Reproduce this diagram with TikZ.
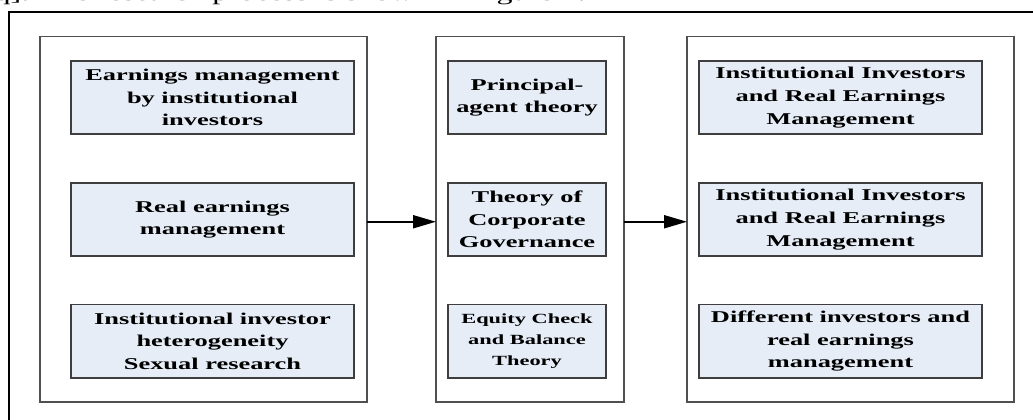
\documentclass[tikz,border=0pt]{standalone}
\usepackage{fontspec}
\setmainfont{Liberation Serif}[FakeStretch=1.6]
\usetikzlibrary{arrows.meta}
\definecolor{boxfill}{RGB}{230,237,247}
\definecolor{boxline}{RGB}{62,62,62}
\definecolor{panelline}{RGB}{80,80,80}
\begin{document}
\begin{tikzpicture}[x=1pt,y=-1pt,
  panel/.style={draw=panelline,line width=1.3pt,inner sep=0pt,outer sep=0pt,minimum height=365.5pt},
  topic/.style={draw=boxline,line width=1.4pt,fill=boxfill,inner sep=0pt,outer sep=0pt,
    minimum height=73pt,align=center,font=\fontsize{16.5}{22.7}\selectfont\bfseries},
  smalltopic/.style={topic,font=\fontsize{14}{21}\selectfont\bfseries},
  flow/.style={-{Triangle[length=23pt,width=13pt]},line width=2pt,black}]
\clip (0,0) rectangle (1033,420);

% running text of the page above the figure
\node[anchor=base west,inner sep=0pt,font=\fontsize{20}{24}\selectfont] (intro) at (-5.6,0.3)
  {q]. The research process is shown in Figure 1.};

% outer frame
\draw[line width=2.4pt] (9,440) -- (9,12) -- (1050,12);

% three stages
\node[panel,minimum width=327pt] (P1) at (203.5,219.25) {};
\node[panel,minimum width=188pt] (P2) at (530,219.25) {};
\node[panel,minimum width=327pt] (P3) at (850.5,219.25) {};

% stage 1
\node[topic,minimum width=283pt] (l1) at (212.5,97.5) {Earnings management\\by institutional\\investors};
\node[topic,minimum width=283pt] (l2) at (212.5,219.5) {Real earnings\\management};
\node[topic,minimum width=283pt,minimum height=73.5pt] (l3) at (212.5,341.25) {Institutional investor\\heterogeneity\\Sexual research};

% stage 2
\node[topic,minimum width=158pt] (m1) at (527,97.5) {Principal-\\agent theory};
\node[topic,minimum width=158pt] (m2) at (527,219.5) {Theory of\\Corporate\\Governance};
\node[smalltopic,minimum width=158pt,minimum height=73.5pt] (m3) at (527,341.25) {Equity Check\\and Balance\\Theory};

% stage 3
\node[topic,minimum width=283pt] (r1) at (840.5,97.5) {Institutional Investors\\and Real Earnings\\Management};
\node[topic,minimum width=283pt] (r2) at (840.5,219.5) {Institutional Investors\\and Real Earnings\\Management};
\node[topic,minimum width=283pt,minimum height=73.5pt] (r3) at (840.5,341.25) {Different investors and\\real earnings\\management};

% flow between stages
\draw[flow] ([yshift=-2.5pt]P1.east) -- ([yshift=-2.5pt]P2.west);
\draw[flow] ([yshift=-2.5pt]P2.east) -- ([yshift=-2.5pt]P3.west);
\end{tikzpicture}
\end{document}
